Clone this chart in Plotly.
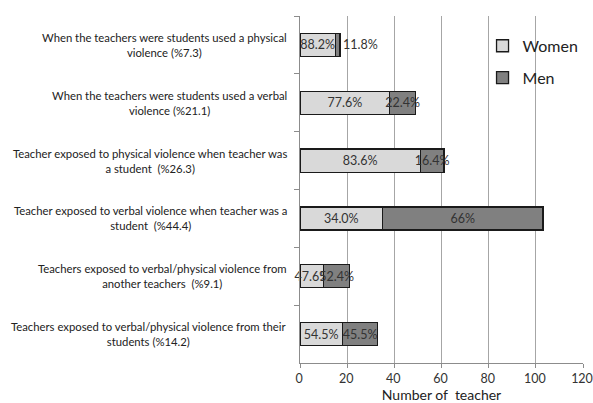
import plotly.graph_objects as go

categories = [
    "When the teachers were students used a physical<br>violence (%7.3)",
    "When the teachers were students used a verbal<br>violence (%21.1)",
    "Teacher exposed to physical violence when teacher was<br>a student  (%26.3)",
    "Teacher exposed to verbal violence when teacher was a<br>student  (%44.4)",
    "Teachers exposed to verbal/physical violence from<br>another teachers  (%9.1)",
    "Teachers exposed to verbal/physical violence from their<br>students (%14.2)",
]
women = [15, 38, 51, 35, 10, 18]
men = [2, 11, 10, 68, 11, 15]
women_labels = ["88.2%", "77.6%", "83.6%", "34.0%", "47.6%", "54.5%"]
men_labels = ["11.8%", "22.4%", "16.4%", "66%", "52.4%", "45.5%"]
x_ticks = [0, 20, 40, 60, 80, 100, 120]

FONT = "Lato"
fig = go.Figure()
fig.add_trace(go.Bar(
    y=categories, x=women, orientation="h", name="Women",
    marker=dict(color="#d9d9d9", line=dict(color="#1a1a1a", width=1.3)),
    text=women_labels, textposition="inside", insidetextanchor="middle",
    textangle=0, constraintext="none", cliponaxis=False,
    textfont=dict(family=FONT, size=12.5, color="#333333"),
    legendgroup="w",
))
fig.add_trace(go.Bar(
    y=categories, x=men, orientation="h", name="Men",
    marker=dict(color="#808080", line=dict(color="#1a1a1a", width=1.3)),
    text=men_labels,
    textposition=["outside", "inside", "inside", "inside", "inside", "inside"],
    insidetextanchor="middle", textangle=0, constraintext="none",
    textfont=dict(family=FONT, size=12.5, color="#333333"),
    cliponaxis=False,
    legendgroup="m",
))

for c in categories:
    fig.add_annotation(
        x=-0.040, xref="paper", y=c, yref="y", text=c, showarrow=False,
        xanchor="right", yanchor="middle", align="center",
        font=dict(family=FONT, size=11.3, color="#222222"),
    )

fig.update_layout(
    width=593, height=403,
    margin=dict(l=300, r=10, t=16, b=40, autoexpand=False),
    paper_bgcolor="white", plot_bgcolor="white",
    barmode="stack", bargap=0.6,
    showlegend=True,
    legend=dict(
        x=0.645, y=0.963, xanchor="left", yanchor="top",
        bgcolor="rgba(0,0,0,0)", traceorder="grouped", tracegroupgap=8,
        itemwidth=30,
        font=dict(family=FONT, size=16, color="#222222"),
    ),
    font=dict(family=FONT),
)
fig.update_xaxes(
    range=[0, 120], tickvals=x_ticks, ticktext=[str(v) for v in x_ticks],
    showgrid=True, gridcolor="#a6a6a6", gridwidth=1,
    showline=True, linecolor="#8c8c8c", linewidth=1,
    ticks="outside", ticklen=4, tickcolor="#8c8c8c",
    tickfont=dict(family=FONT, size=12.5, color="#333333"),
    ticklabeloverflow="allow", ticklabelshift=-1,
    title=dict(text="Number of  teacher", standoff=2,
               font=dict(family=FONT, size=14, color="#222222")),
    zeroline=False, automargin=False,
)
fig.update_yaxes(
    categoryorder="array", categoryarray=categories, autorange="reversed",
    showticklabels=False, showgrid=False,
    showline=True, linecolor="#8c8c8c", linewidth=1,
    ticks="outside", ticklen=5, tickcolor="#8c8c8c", tickson="boundaries",
    automargin=False,
)

fig.write_html(
    "out.html",
    config={"displayModeBar": False},
    post_script="document.body.style.margin='0px';document.body.style.overflow='hidden';",
)
